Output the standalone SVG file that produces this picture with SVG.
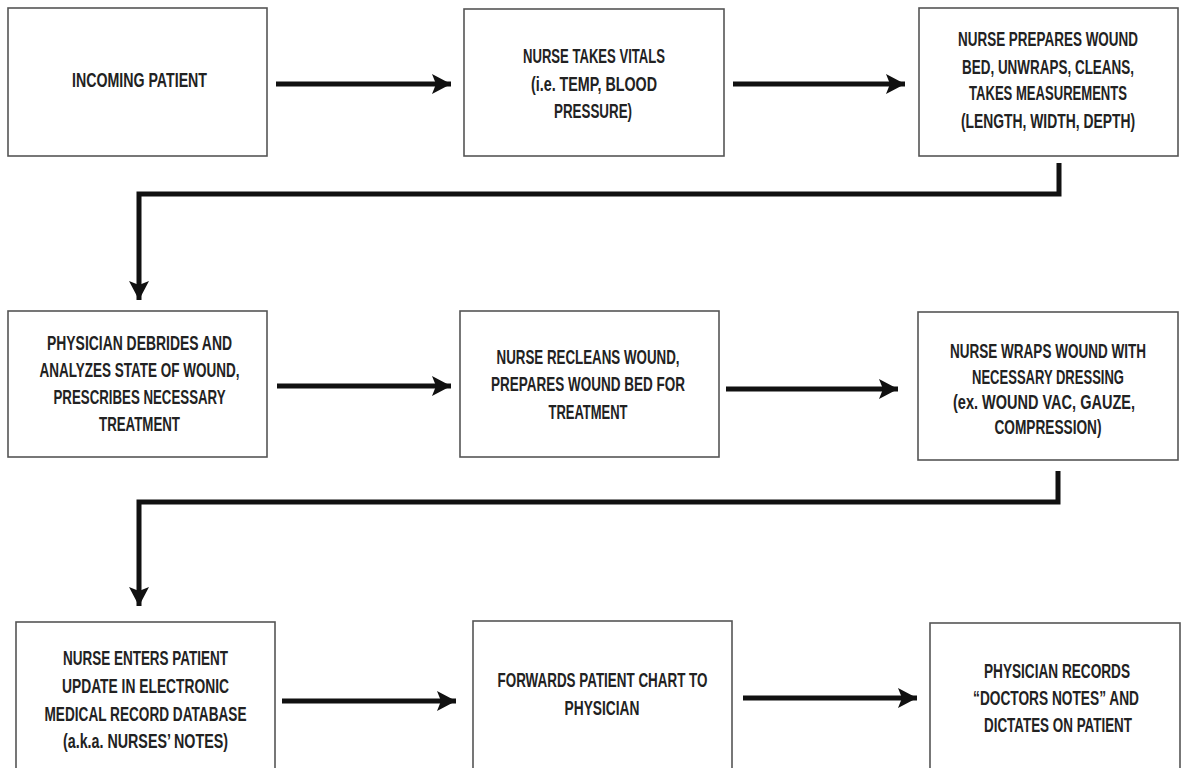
<svg xmlns="http://www.w3.org/2000/svg" width="1184" height="768" viewBox="0 0 1184 768">
<style>
.box{fill:#fff;stroke:#555;stroke-width:1.6}
.t{font-family:"Liberation Sans Narrow","Liberation Sans",Arial,sans-serif;font-weight:bold;font-size:21px;fill:#222;text-anchor:middle}
.c{fill:none;stroke:#111;stroke-width:5}
</style>
<defs>
<marker id="ah" markerUnits="userSpaceOnUse" markerWidth="22" markerHeight="22" viewBox="0 0 22 22" refX="19" refY="11" orient="auto">
<path d="M0,1 L19,11 L0,21 L4,11 Z" fill="#111"/>
</marker>
</defs>
<rect width="1184" height="768" fill="#fff"/>
<g id="connectors">
<line class="c" x1="276" y1="84" x2="451" y2="84" marker-end="url(#ah)"/>
<line class="c" x1="733" y1="84" x2="905" y2="84" marker-end="url(#ah)"/>
<path class="c" d="M1059,163 V194 H139 V300" marker-end="url(#ah)"/>
<line class="c" x1="277" y1="386" x2="451" y2="386" marker-end="url(#ah)"/>
<line class="c" x1="726" y1="389" x2="898" y2="389" marker-end="url(#ah)"/>
<path class="c" d="M1058,471 V502 H139 V606" marker-end="url(#ah)"/>
<line class="c" x1="282" y1="701" x2="456" y2="701" marker-end="url(#ah)"/>
<line class="c" x1="743" y1="698" x2="917" y2="698" marker-end="url(#ah)"/>
</g>
<g id="n1">
<rect class="box" x="8" y="8" width="259" height="148"/>
<text class="t" transform="translate(139.5,87) scale(0.7,1)" textLength="192.9" lengthAdjust="spacingAndGlyphs">INCOMING PATIENT</text>
</g>
<g id="n2">
<rect class="box" x="464" y="9" width="260" height="147"/>
<text class="t" transform="translate(594,63) scale(0.7,1)" textLength="202.9" lengthAdjust="spacingAndGlyphs">NURSE TAKES VITALS</text>
<text class="t" transform="translate(594,91) scale(0.7,1)" textLength="180" lengthAdjust="spacingAndGlyphs">(i.e. TEMP, BLOOD</text>
<text class="t" transform="translate(593,118) scale(0.7,1)" textLength="111.4" lengthAdjust="spacingAndGlyphs">PRESSURE)</text>
</g>
<g id="n3">
<rect class="box" x="919" y="8" width="259" height="148"/>
<text class="t" transform="translate(1048,46) scale(0.7,1)" textLength="257.1" lengthAdjust="spacingAndGlyphs">NURSE PREPARES WOUND</text>
<text class="t" transform="translate(1048,74) scale(0.7,1)" textLength="245.7" lengthAdjust="spacingAndGlyphs">BED, UNWRAPS, CLEANS,</text>
<text class="t" transform="translate(1048,100) scale(0.7,1)" textLength="225.7" lengthAdjust="spacingAndGlyphs">TAKES MEASUREMENTS</text>
<text class="t" transform="translate(1048,128) scale(0.7,1)" textLength="248.6" lengthAdjust="spacingAndGlyphs">(LENGTH, WIDTH, DEPTH)</text>
</g>
<g id="n4">
<rect class="box" x="8" y="311" width="259" height="146"/>
<text class="t" transform="translate(139.5,350) scale(0.7,1)" textLength="264.3" lengthAdjust="spacingAndGlyphs">PHYSICIAN DEBRIDES AND</text>
<text class="t" transform="translate(139.5,377) scale(0.7,1)" textLength="285.7" lengthAdjust="spacingAndGlyphs">ANALYZES STATE OF WOUND,</text>
<text class="t" transform="translate(139.5,404) scale(0.7,1)" textLength="245.7" lengthAdjust="spacingAndGlyphs">PRESCRIBES NECESSARY</text>
<text class="t" transform="translate(139.5,431) scale(0.7,1)" textLength="115.7" lengthAdjust="spacingAndGlyphs">TREATMENT</text>
</g>
<g id="n5">
<rect class="box" x="460" y="311" width="259" height="146"/>
<text class="t" transform="translate(588,364) scale(0.7,1)" textLength="261.4" lengthAdjust="spacingAndGlyphs">NURSE RECLEANS WOUND,</text>
<text class="t" transform="translate(588,391) scale(0.7,1)" textLength="277.1" lengthAdjust="spacingAndGlyphs">PREPARES WOUND BED FOR</text>
<text class="t" transform="translate(588,419) scale(0.7,1)" textLength="112.9" lengthAdjust="spacingAndGlyphs">TREATMENT</text>
</g>
<g id="n6">
<rect class="box" x="918" y="312" width="260" height="148"/>
<text class="t" transform="translate(1048,358) scale(0.7,1)" textLength="280" lengthAdjust="spacingAndGlyphs">NURSE WRAPS WOUND WITH</text>
<text class="t" transform="translate(1048,384) scale(0.7,1)" textLength="217.1" lengthAdjust="spacingAndGlyphs">NECESSARY DRESSING</text>
<text class="t" transform="translate(1044,409) scale(0.7,1)" textLength="260" lengthAdjust="spacingAndGlyphs">(ex. WOUND VAC, GAUZE,</text>
<text class="t" transform="translate(1048,434) scale(0.7,1)" textLength="152.9" lengthAdjust="spacingAndGlyphs">COMPRESSION)</text>
</g>
<g id="n7">
<rect class="box" x="16" y="622" width="259" height="160"/>
<text class="t" transform="translate(145.5,665) scale(0.7,1)" textLength="235.7" lengthAdjust="spacingAndGlyphs">NURSE ENTERS PATIENT</text>
<text class="t" transform="translate(145.5,693) scale(0.7,1)" textLength="238.6" lengthAdjust="spacingAndGlyphs">UPDATE IN ELECTRONIC</text>
<text class="t" transform="translate(145.5,721) scale(0.7,1)" textLength="288.6" lengthAdjust="spacingAndGlyphs">MEDICAL RECORD DATABASE</text>
<text class="t" transform="translate(145.5,748) scale(0.7,1)" textLength="235.7" lengthAdjust="spacingAndGlyphs">(a.k.a. NURSES’ NOTES)</text>
</g>
<g id="n8">
<rect class="box" x="473" y="621" width="259" height="160"/>
<text class="t" transform="translate(602.5,687) scale(0.7,1)" textLength="300" lengthAdjust="spacingAndGlyphs">FORWARDS PATIENT CHART TO</text>
<text class="t" transform="translate(602,715) scale(0.7,1)" textLength="107.1" lengthAdjust="spacingAndGlyphs">PHYSICIAN</text>
</g>
<g id="n9">
<rect class="box" x="930" y="623" width="250" height="160"/>
<text class="t" transform="translate(1057,678) scale(0.7,1)" textLength="208.6" lengthAdjust="spacingAndGlyphs">PHYSICIAN RECORDS</text>
<text class="t" transform="translate(1056,705) scale(0.7,1)" textLength="237.1" lengthAdjust="spacingAndGlyphs">“DOCTORS NOTES” AND</text>
<text class="t" transform="translate(1058,732) scale(0.7,1)" textLength="211.4" lengthAdjust="spacingAndGlyphs">DICTATES ON PATIENT</text>
</g>
</svg>
